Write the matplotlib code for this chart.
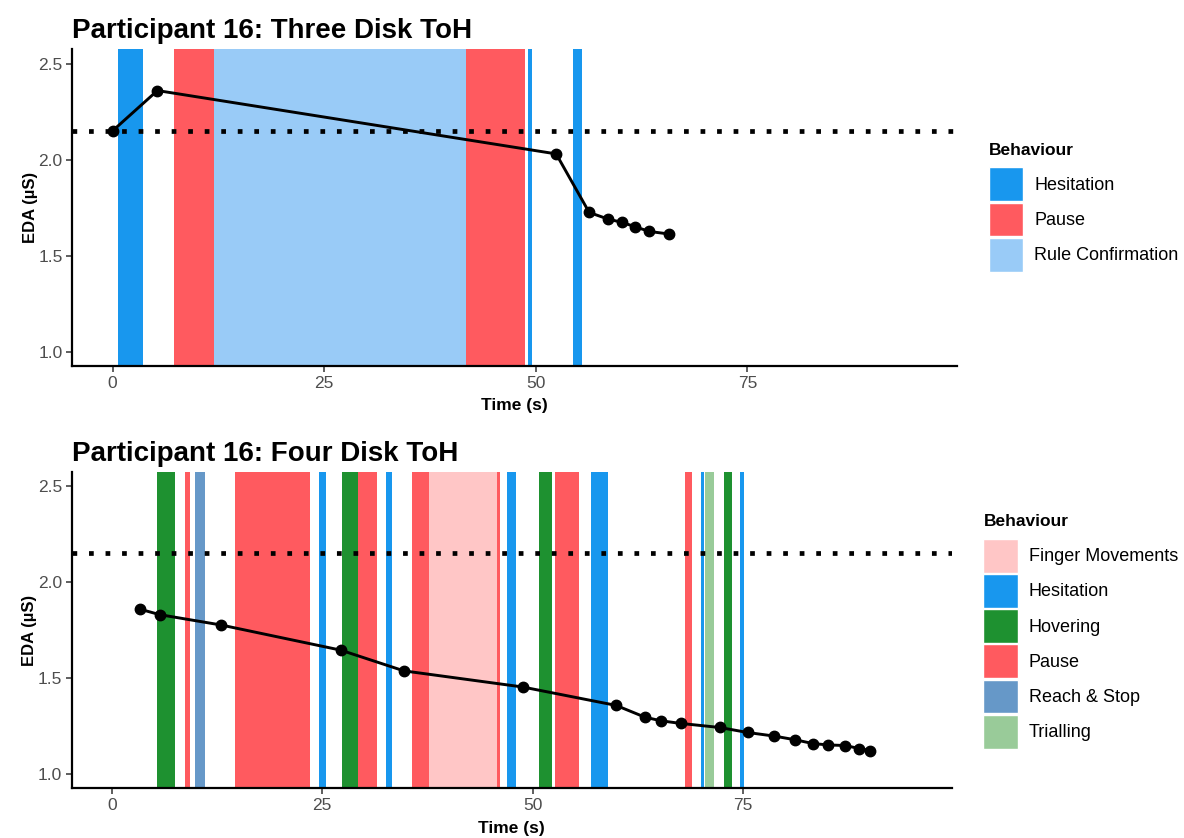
import matplotlib
matplotlib.use("Agg")
import matplotlib.pyplot as plt
from matplotlib.patches import Patch

plt.rcParams["font.family"] = ["Liberation Sans", "DejaVu Sans"]

# behaviour colours
colors = {
    "Finger Movements": "#FFC6C6",
    "Hesitation": "#1897EE",
    "Hovering": "#1E9130",
    "Pause": "#FF5A5F",
    "Reach & Stop": "#6698C8",
    "Rule Confirmation": "#99CBF7",
    "Trialling": "#99CB99",
}

baseline = 2.15

# three disk task
top_beh = ["Hesitation", "Pause", "Rule Confirmation", "Pause", "Hesitation", "Hesitation"]
top_start = [0.7, 7.2, 12.0, 41.7, 49.1, 54.4]
top_end = [3.55, 12.0, 41.7, 48.7, 49.55, 55.4]
top_time = [0.0, 5.3, 52.4, 56.3, 58.5, 60.2, 61.7, 63.4, 65.7]
top_eda = [2.15, 2.36, 2.03, 1.725, 1.691, 1.673, 1.651, 1.626, 1.613]

# four disk task
bot_beh = ["Hovering", "Pause", "Reach & Stop", "Pause", "Hesitation", "Hovering",
           "Pause", "Hesitation", "Pause", "Finger Movements", "Pause", "Hesitation",
           "Hovering", "Pause", "Hesitation", "Pause", "Hesitation", "Trialling",
           "Hovering", "Hesitation"]
bot_start = [5.4, 8.65, 9.9, 14.6, 24.6, 27.3, 29.3, 32.6, 35.6, 37.7, 45.75, 46.9,
             50.75, 52.65, 56.9, 68.1, 70.0, 70.4, 72.7, 74.6]
bot_end = [7.55, 9.3, 11.1, 23.5, 25.5, 29.3, 31.5, 33.3, 37.7, 45.75, 46.1, 47.95,
           52.3, 55.5, 58.9, 68.9, 70.35, 71.55, 73.6, 75.05]
bot_time = [3.4, 5.7, 13.0, 27.2, 34.7, 48.8, 59.9, 63.3, 65.2, 67.6, 72.2, 75.5,
            78.7, 81.15, 83.3, 85.1, 87.1, 88.8, 90.1]
bot_eda = [1.858, 1.830, 1.776, 1.645, 1.537, 1.453, 1.357, 1.296, 1.277, 1.263,
           1.242, 1.216, 1.197, 1.178, 1.158, 1.151, 1.148, 1.132, 1.122]


def draw_panel(ax, title, beh, start, end, time, eda, legend_order, legend_y):
    for b, s, e in zip(beh, start, end):
        ax.axvspan(s, e, color=colors[b], lw=0, zorder=1)
    ax.axhline(baseline, color="black", lw=3.4, linestyle=(0, (1, 2.5)), zorder=2)
    ax.plot(time, eda, color="black", lw=2.1, marker="o", markersize=7.5, zorder=3)

    ax.set_xlim(-4.75, 99.75)
    ax.set_ylim(0.925, 2.575)
    ax.set_xticks([0, 25, 50, 75])
    ax.set_yticks([1.0, 1.5, 2.0, 2.5])
    ax.set_yticklabels(["1.0", "1.5", "2.0", "2.5"])
    for side in ["top", "right"]:
        ax.spines[side].set_visible(False)
    for side in ["left", "bottom"]:
        ax.spines[side].set_linewidth(1.6)
        ax.spines[side].set_color("black")
    ax.tick_params(axis="both", length=4, width=1.1, color="#333333",
                   labelsize=12.5, labelcolor="#4D4D4D", pad=3)
    ax.set_xlabel("Time (s)", fontsize=12.5, fontweight="bold", labelpad=5.5)
    ax.set_ylabel("EDA (µS)", fontsize=12, fontweight="bold", labelpad=0.5)
    ax.set_title(title, loc="left", fontsize=20, fontweight="bold", pad=8)

    handles = [Patch(facecolor=colors[b], edgecolor="white", lw=1.0) for b in legend_order]
    leg = ax.legend(handles, legend_order, title="Behaviour", loc="upper left",
                    bbox_to_anchor=(1.036, legend_y), frameon=False,
                    fontsize=13, title_fontproperties={"weight": "bold", "size": 12.5},
                    handlelength=1.9, handleheight=2.5, handletextpad=0.6,
                    labelspacing=0.08, alignment="left", borderaxespad=0, borderpad=0)
    # ggplot leaves a gap between legend title and keys
    leg._legend_box.sep = 7
    return leg


fig = plt.figure(figsize=(11.84, 8.38), dpi=100)
ax1 = fig.add_axes([0.0611, 0.5632, 0.7472, 0.3780])
ax2 = fig.add_axes([0.0606, 0.0593, 0.7432, 0.3778])

draw_panel(ax1, "Participant 16: Three Disk ToH", top_beh, top_start, top_end,
           top_time, top_eda, ["Hesitation", "Pause", "Rule Confirmation"], 0.705)
draw_panel(ax2, "Participant 16: Four Disk ToH", bot_beh, bot_start, bot_end,
           bot_time, bot_eda,
           ["Finger Movements", "Hesitation", "Hovering", "Pause", "Reach & Stop", "Trialling"],
           0.866)

fig.savefig("out.png", dpi=100)
